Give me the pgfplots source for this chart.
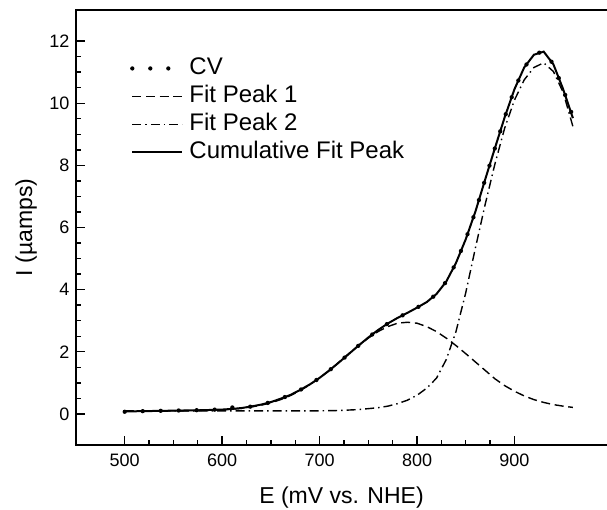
\documentclass[border=0pt]{standalone}
\usepackage{fontspec}
\setmainfont{Liberation Sans}
\usepackage{pgfplots}
\pgfplotsset{compat=1.18}
\begin{document}
\begin{tikzpicture}
\begin{axis}[
  name=ax,
  at={(0pt,0pt)}, anchor=south west,
  scale only axis, width=531pt, height=435pt,
  xmin=450, xmax=995, ymin=-1, ymax=13,
  xtick={500,600,700,800,900}, ytick={0,2,4,6,8,10,12},
  minor x tick num=3, minor y tick num=3,
  tick pos=left, tick align=inside,
  major tick length=9pt, minor tick length=5pt,
  every tick/.style={line width=1.4pt, black},
  axis line style={draw=none},
  /pgf/number format/assume math mode=true,
  /pgf/number format/1000 sep={},
  ticklabel style={font=\fontsize{18}{21}\selectfont},
  yticklabel style={xshift=-3pt},
  xticklabel style={yshift=-5pt},
  xlabel={E (mV vs. NHE)}, ylabel={I (µamps)},
  label style={font=\fontsize{23}{27}\selectfont},
  xlabel style={at={(axis description cs:0.5,-0.121)}, anchor=center},
  ylabel style={at={(axis description cs:-0.094,0.5)}, anchor=center},
  legend image code/.code={\draw[#1] (0pt,0pt) -- (50pt,0pt); \path (55pt,0pt);},
  legend cell align=left,
  legend style={draw=none, fill=none, at={(rel axis cs:0.096,0.896)}, anchor=north west,
    font=\fontsize{24}{28}\selectfont, row sep=6pt,
    nodes={inner sep=0pt, text height=17pt, text depth=5pt}},
]
% CV (dotted)
\addplot[black, line width=4.3pt, line cap=round, dash pattern=on 0pt off 18pt] coordinates {
(500,0.07) (510,0.085) (520,0.09) (530,0.10) (540,0.10) (550,0.11) (560,0.11) (570,0.12)
(580,0.12) (590,0.14) (600,0.13) (610,0.21) (620,0.19) (630,0.24) (640,0.30) (650,0.38)
(660,0.49) (670,0.61) (680,0.77) (690,0.95) (700,1.16) (710,1.40) (720,1.66) (730,1.93)
(740,2.20) (750,2.46) (760,2.70) (770,2.91) (780,3.09) (790,3.25) (800,3.42) (810,3.60)
(820,3.86) (830,4.26) (840,4.86) (850,5.62) (860,6.52) (870,7.55) (880,8.56) (890,9.55)
(900,10.45) (910,11.15) (920,11.56) (930,11.68) (940,11.25) (950,10.45) (960,9.56)
};
\addlegendentry{CV}
% Fit peak 1
\addplot[black, line width=1.4pt, dash pattern=on 9pt off 4.7pt] coordinates {
(500,0.10) (520,0.10) (540,0.10) (560,0.105) (580,0.113) (600,0.135) (610,0.155) (620,0.18)
(630,0.225) (640,0.28) (650,0.36) (660,0.46) (670,0.59) (680,0.75) (690,0.94) (700,1.16)
(710,1.40) (720,1.67) (730,1.94) (740,2.20) (750,2.44) (760,2.65) (770,2.81) (780,2.92)
(790,2.95) (800,2.92) (810,2.81) (820,2.65) (830,2.44) (840,2.20) (850,1.94) (860,1.67)
(870,1.40) (880,1.13) (890,0.91) (900,0.73) (910,0.58) (920,0.46) (930,0.37) (940,0.30)
(950,0.25) (960,0.21)
};
\addlegendentry{Fit Peak 1}
% Fit peak 2
\addplot[black, line width=1.4pt, dash pattern=on 9pt off 4pt on 1.5pt off 4pt] coordinates {
(500,0.10) (550,0.10) (600,0.10) (650,0.10) (700,0.10) (720,0.11) (740,0.14) (760,0.20)
(770,0.25) (780,0.33) (790,0.44) (800,0.60) (810,0.83) (820,1.15) (830,1.75) (840,2.65)
(850,3.90) (860,5.35) (870,6.75) (880,8.05) (890,9.20) (900,10.10) (910,10.75) (920,11.15)
(930,11.30) (940,11.02) (950,10.35) (960,9.25)
};
\addlegendentry{Fit Peak 2}
% Cumulative fit
\addplot[black, line width=2pt] coordinates {
(500,0.08) (510,0.085) (520,0.09) (530,0.095) (540,0.10) (550,0.105) (560,0.11) (570,0.115)
(580,0.12) (590,0.13) (600,0.14) (610,0.16) (620,0.19) (630,0.24) (640,0.30) (650,0.38)
(660,0.49) (670,0.61) (680,0.77) (690,0.95) (700,1.16) (710,1.40) (720,1.66) (730,1.93)
(740,2.20) (750,2.46) (760,2.70) (770,2.91) (780,3.09) (790,3.25) (800,3.42) (810,3.60)
(820,3.86) (830,4.26) (840,4.86) (850,5.62) (860,6.52) (870,7.55) (880,8.56) (890,9.55)
(900,10.45) (910,11.15) (920,11.56) (930,11.66) (940,11.25) (950,10.45) (960,9.52)
};
\addlegendentry{Cumulative Fit Peak}
\end{axis}
\draw[line width=1.8pt, line join=miter] (ax.north east) -- (ax.north west) -- (ax.south west) -- (ax.south east);
\pgfresetboundingbox
\useasboundingbox (-76pt,-65pt) rectangle (531pt,445pt);
\end{tikzpicture}
\end{document}
